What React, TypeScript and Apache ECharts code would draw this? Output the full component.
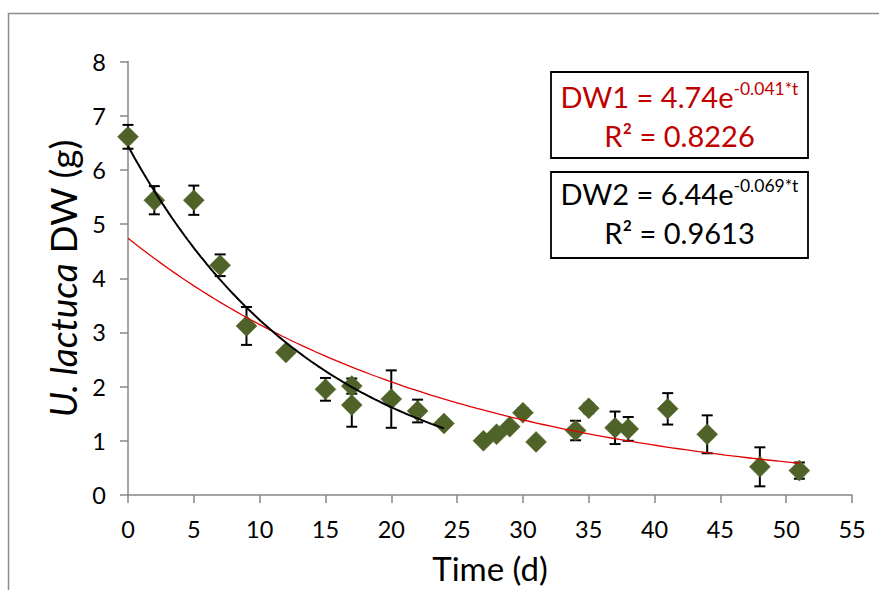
import React, { useEffect, useRef } from "react";
import * as echarts from "echarts";

const times = [0, 2, 5, 7, 9, 12, 15, 17, 17, 20, 22, 24, 27, 28, 29, 30, 31, 34, 35, 37, 38, 41, 44, 48, 51];
const dwValues = [6.61, 5.44, 5.44, 4.24, 3.12, 2.63, 1.95, 2.01, 1.66, 1.77, 1.55, 1.32, 1.0, 1.12, 1.26, 1.52, 0.98, 1.19, 1.6, 1.24, 1.22, 1.59, 1.12, 0.52, 0.45];
const dwErrors = [0.22, 0.26, 0.27, 0.2, 0.35, 0.06, 0.21, 0.14, 0.4, 0.53, 0.21, 0.07, 0.06, 0.05, 0.05, 0.08, 0.05, 0.18, 0.09, 0.3, 0.22, 0.29, 0.35, 0.36, 0.15];

// Trendline equations as printed on the chart
const fit1 = { a: 4.74, k: -0.041, tEnd: 51 }; // DW1 (red)
const fit2 = { a: 6.44, k: -0.069, tEnd: 24 }; // DW2 (black)

const xTicks = { min: 0, max: 55, interval: 5 };
const yTicks = { min: 0, max: 8, interval: 1 };

const FONT = "Lato, 'Open Sans', sans-serif";

function trend(fit: { a: number; k: number; tEnd: number }) {
  const pts: number[][] = [];
  const steps = 100;
  for (let i = 0; i <= steps; i++) {
    const t = (fit.tEnd * i) / steps;
    pts.push([t, fit.a * Math.exp(fit.k * t)]);
  }
  return pts;
}

export default function App() {
  const ref = useRef<HTMLDivElement>(null);
  useEffect(() => {
    if (!ref.current) return;
    const chart = echarts.init(ref.current, null, { renderer: "svg" });
    const scatterData = times.map((t, i) => [t, dwValues[i]]);
    const errData = times.map((t, i) => [t, dwValues[i], dwErrors[i]]);
    const axisGrey = "#878787";
    chart.setOption({
      animation: false,
      backgroundColor: "#ffffff",
      grid: { left: 128, right: 27, top: 61.5, bottom: 95, containLabel: false },
      xAxis: {
        type: "value",
        min: xTicks.min,
        max: xTicks.max,
        interval: xTicks.interval,
        name: "Time (d)",
        nameLocation: "middle",
        nameGap: 56,
        nameTextStyle: { fontFamily: FONT, fontSize: 33, color: "#000" },
        axisLine: { show: true, onZero: false, lineStyle: { color: axisGrey, width: 1.5 } },
        axisTick: { show: true, inside: false, length: 8, lineStyle: { color: axisGrey, width: 1.5 } },
        axisLabel: { fontFamily: FONT, fontSize: 23.5, color: "#000", margin: 22 },
        splitLine: { show: false },
      },
      yAxis: {
        type: "value",
        min: yTicks.min,
        max: yTicks.max,
        interval: yTicks.interval,
        name: "{i|U. lactuca} DW (g)",
        nameLocation: "middle",
        nameRotate: 90,
        nameGap: 43,
        nameTextStyle: {
          fontFamily: FONT,
          fontSize: 37,
          color: "#000",
          rich: { i: { fontFamily: FONT, fontSize: 37, fontStyle: "italic", color: "#000" } },
        },
        axisLine: { show: true, lineStyle: { color: axisGrey, width: 1.5 } },
        axisTick: { show: true, inside: false, length: 8, lineStyle: { color: axisGrey, width: 1.5 } },
        axisLabel: { fontFamily: FONT, fontSize: 23.5, color: "#000", margin: 22 },
        splitLine: { show: false },
      },
      graphic: [
        {
          type: "rect",
          shape: { x: 8.5, y: 13.5, width: 1000, height: 1000 },
          style: { fill: "none", stroke: "#8c8c8c", lineWidth: 1.5 },
          silent: true,
          z: -10,
        },
        {
          type: "rect",
          shape: { x: 551, y: 72, width: 257, height: 86 },
          style: { fill: "#fff", stroke: "#000", lineWidth: 1.8 },
          z: 10,
        },
        {
          type: "text",
          x: 679.5,
          y: 96,
          z: 11,
          style: {
            text: "{m|DW1 = 4.74e}{s|-0.041*t}",
            align: "center",
            verticalAlign: "middle",
            rich: {
              m: { fontFamily: FONT, fontSize: 29, lineHeight: 33, fill: "#C00000" },
              s: { fontFamily: FONT, fontSize: 17.5, lineHeight: 18, verticalAlign: "top", fill: "#C00000" },
            },
          },
        },
        {
          type: "text",
          x: 679.5,
          y: 135,
          z: 11,
          style: {
            text: "R² = 0.8226",
            align: "center",
            verticalAlign: "middle",
            fontFamily: FONT,
            fontSize: 29,
            fill: "#C00000",
          },
        },
        {
          type: "rect",
          shape: { x: 551, y: 172, width: 257, height: 86 },
          style: { fill: "#fff", stroke: "#000", lineWidth: 1.8 },
          z: 10,
        },
        {
          type: "text",
          x: 679.5,
          y: 193,
          z: 11,
          style: {
            text: "{m|DW2 = 6.44e}{s|-0.069*t}",
            align: "center",
            verticalAlign: "middle",
            rich: {
              m: { fontFamily: FONT, fontSize: 29, lineHeight: 33, fill: "#000" },
              s: { fontFamily: FONT, fontSize: 17.5, lineHeight: 18, verticalAlign: "top", fill: "#000" },
            },
          },
        },
        {
          type: "text",
          x: 679.5,
          y: 232.5,
          z: 11,
          style: {
            text: "R² = 0.9613",
            align: "center",
            verticalAlign: "middle",
            fontFamily: FONT,
            fontSize: 29,
            fill: "#000",
          },
        },
      ],
      series: [
        {
          type: "custom",
          name: "error",
          z: 1,
          encode: { x: 0, y: 1 },
          data: errData,
          renderItem: (params: any, api: any) => {
            const t = api.value(0);
            const v = api.value(1);
            const e = api.value(2);
            const top = api.coord([t, v + e]);
            const bot = api.coord([t, v - e]);
            const hw = 5.5;
            const st = { stroke: "#000", lineWidth: 2 };
            return {
              type: "group",
              children: [
                { type: "line", shape: { x1: top[0], y1: top[1], x2: bot[0], y2: bot[1] }, style: st },
                { type: "line", shape: { x1: top[0] - hw, y1: top[1], x2: top[0] + hw, y2: top[1] }, style: st },
                { type: "line", shape: { x1: bot[0] - hw, y1: bot[1], x2: bot[0] + hw, y2: bot[1] }, style: st },
              ],
            };
          },
        },
        {
          type: "scatter",
          name: "DW",
          z: 3,
          symbol: "diamond",
          symbolSize: 21,
          itemStyle: { color: "#4F6228", opacity: 1, borderColor: "#55692d", borderWidth: 0.5 },
          data: scatterData,
        },
        {
          type: "line",
          name: "DW1 fit",
          z: 4,
          showSymbol: false,
          smooth: false,
          lineStyle: { color: "#E00000", width: 1.3 },
          data: trend(fit1),
        },
        {
          type: "line",
          name: "DW2 fit",
          z: 4,
          showSymbol: false,
          smooth: false,
          lineStyle: { color: "#000", width: 2 },
          data: trend(fit2),
        },
      ],
    });
    return () => chart.dispose();
  }, []);
  return (
    <div
      ref={ref}
      style={{ position: "fixed", left: 0, top: 0, width: 879, height: 590, background: "#fff" }}
    />
  );
}
